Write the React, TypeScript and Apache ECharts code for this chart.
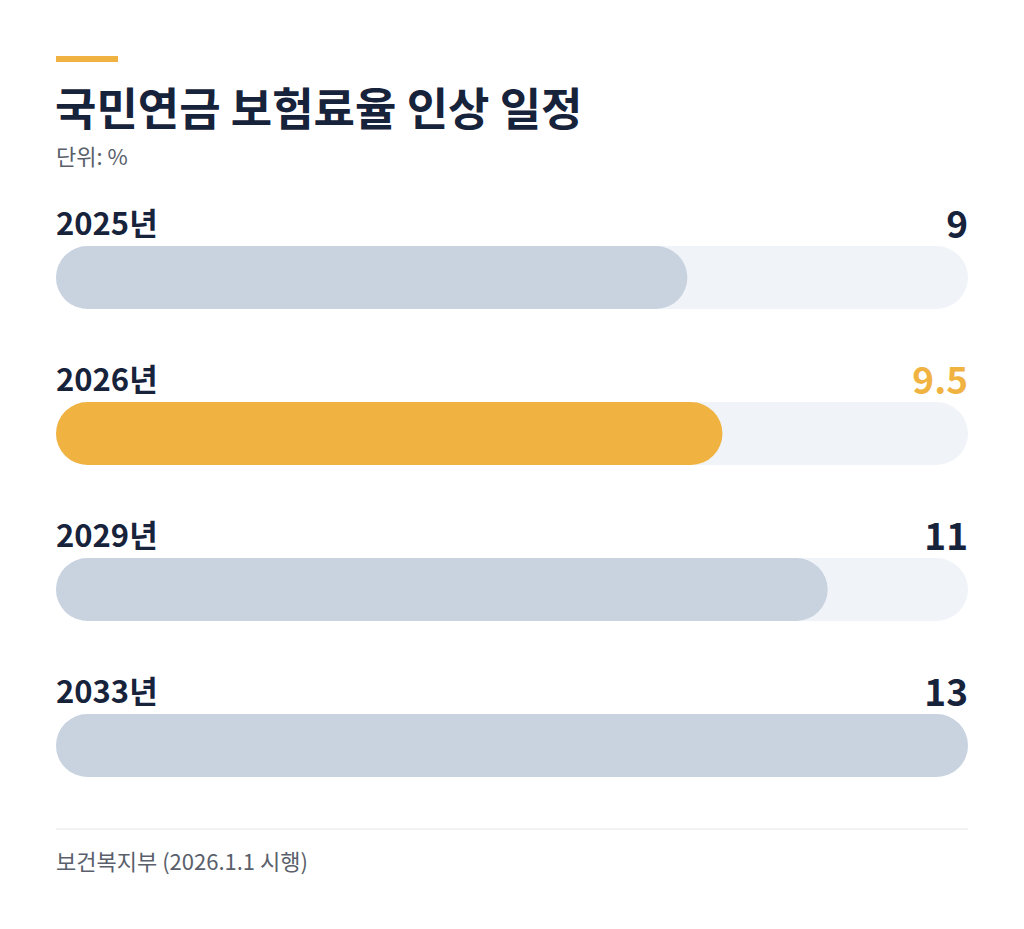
import { useEffect, useRef } from 'react';
import * as echarts from 'echarts';

const years = ['2025년', '2026년', '2029년', '2033년'];
const rates = [9, 9.5, 11, 13];
const highlightYear = '2026년';

const NAVY = '#17223b';
const ACCENT = '#f0b342';
const BAR = '#c9d3e0';
const TRACK = '#f0f3f8';
const FONT = '"Noto Sans CJK KR", "Noto Sans", sans-serif';

export default function App() {
    const ref = useRef<HTMLDivElement | null>(null);

    useEffect(() => {
        if (!ref.current) return;
        const chart = echarts.init(ref.current, null, { renderer: 'svg' });
        const maxRate = Math.max(...rates);
        const track = rates.map(() => maxRate);

        chart.setOption({
            animation: false,
            backgroundColor: '#ffffff',
            textStyle: { fontFamily: FONT },
            graphic: [
                { type: 'rect', shape: { x: 56, y: 56, width: 62, height: 6 }, style: { fill: ACCENT } },
                {
                    type: 'text', x: 55, y: 106,
                    style: { text: '국민연금 보험료율 인상 일정', font: `bold 45px ${FONT}`, fill: NAVY, verticalAlign: 'middle' }
                },
                {
                    type: 'text', x: 56, y: 155,
                    style: { text: '단위: %', font: `22px ${FONT}`, fill: '#5a5f6b', verticalAlign: 'middle' }
                },
                { type: 'rect', shape: { x: 56, y: 828.5, width: 912, height: 1 }, style: { fill: '#e3e6ea' } },
                {
                    type: 'text', x: 56, y: 860,
                    style: { text: '보건복지부 (2026.1.1 시행)', font: `22px ${FONT}`, fill: '#5a5f6b', verticalAlign: 'middle' }
                }
            ],
            grid: { left: 56, width: 912, top: 199.5, height: 624 },
            xAxis: { type: 'value', min: 0, max: maxRate, show: false },
            yAxis: { type: 'category', data: years, inverse: true, show: false },
            series: [
                {
                    type: 'bar',
                    data: track,
                    barWidth: 63,
                    barGap: '-100%',
                    silent: true,
                    itemStyle: { color: TRACK, borderRadius: 32 },
                    label: {
                        show: true,
                        position: [0, -25],
                        align: 'left',
                        verticalAlign: 'middle',
                        formatter: (p: any) => p.name,
                        fontFamily: FONT,
                        fontWeight: 'bold',
                        fontSize: 31,
                        color: NAVY
                    }
                },
                {
                    type: 'bar',
                    data: rates.map((v, i) => ({
                        value: v,
                        itemStyle: { color: years[i] === highlightYear ? ACCENT : BAR }
                    })),
                    barWidth: 63,
                    barGap: '-100%',
                    itemStyle: { borderRadius: 32 }
                },
                {
                    type: 'bar',
                    data: track.map((v, i) => ({
                        value: v,
                        label: years[i] === highlightYear ? { color: ACCENT } : undefined
                    })),
                    barWidth: 63,
                    barGap: '-100%',
                    silent: true,
                    itemStyle: { color: 'transparent' },
                    label: {
                        show: true,
                        position: ['100%', -24],
                        align: 'right',
                        verticalAlign: 'middle',
                        formatter: (p: any) => String(rates[p.dataIndex]),
                        fontFamily: FONT,
                        fontWeight: 'bold',
                        fontSize: 37,
                        color: NAVY
                    }
                }
            ]
        });

        return () => chart.dispose();
    }, []);

    return <div ref={ref} style={{ position: 'fixed', left: 0, top: 0, width: 1024, height: 929 }} />;
}
